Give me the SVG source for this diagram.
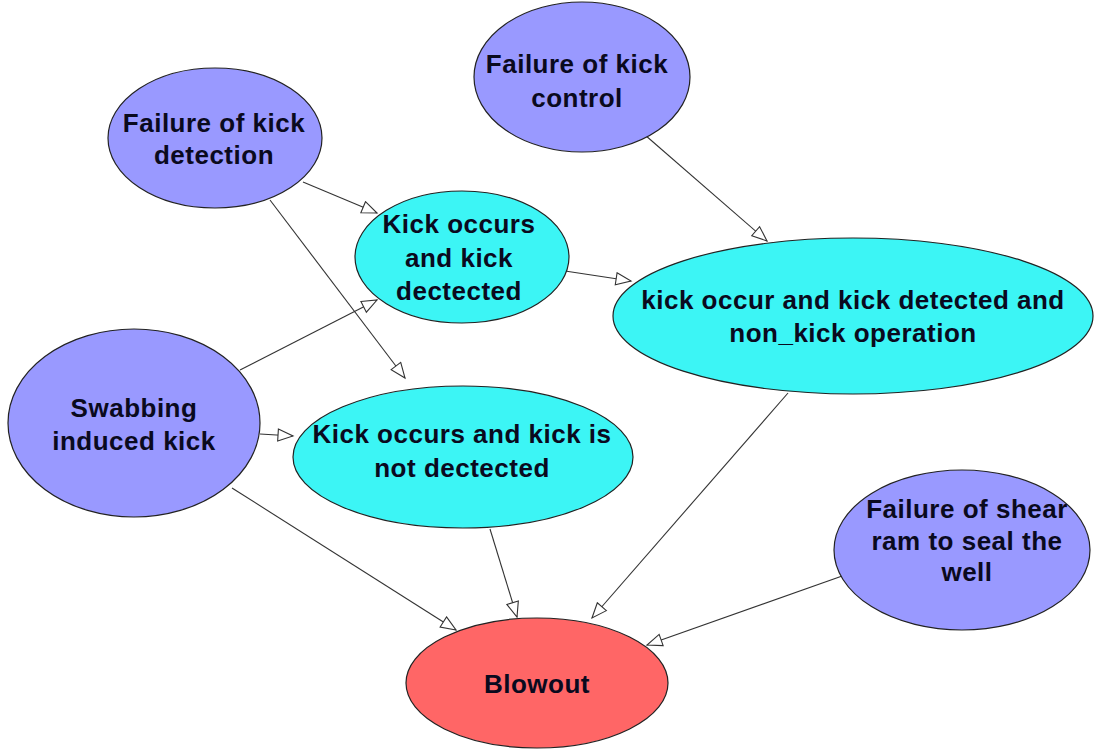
<svg xmlns="http://www.w3.org/2000/svg" width="1094" height="749" viewBox="0 0 1094 749">
  <style>
    .cause { fill: #9999FF; stroke: #222; stroke-width: 1.2; }
    .state { fill: #3CF5F5; stroke: #222; stroke-width: 1.2; }
    .top { fill: #FF6666; stroke: #222; stroke-width: 1.2; }
    .lbl { font-family: "Liberation Sans", Arial, sans-serif; font-weight: bold; font-size: 26px; letter-spacing: 0.5px; fill: #0a0a1e; text-anchor: middle; }
    .edge { stroke: #333; stroke-width: 1.1; fill: none; marker-end: url(#head); }
  </style>
  <defs>
    <marker id="head" markerUnits="userSpaceOnUse" markerWidth="20" markerHeight="16" refX="16" refY="7" orient="auto">
      <path d="M1,1 L16,7 L1,13 Z" fill="#fff" stroke="#333" stroke-width="1.1"/>
    </marker>
  </defs>
  <rect width="1094" height="749" fill="#fff"/>

  <g id="connectors">
    <line class="edge" x1="303" y1="182" x2="377" y2="213"/>
    <line class="edge" x1="270" y1="200" x2="405" y2="378"/>
    <line class="edge" x1="645" y1="135" x2="767" y2="241"/>
    <line class="edge" x1="565" y1="271" x2="631" y2="281"/>
    <line class="edge" x1="240" y1="370" x2="377" y2="300"/>
    <line class="edge" x1="260" y1="434" x2="293" y2="436"/>
    <line class="edge" x1="232" y1="488" x2="456" y2="630"/>
    <line class="edge" x1="490" y1="529" x2="517" y2="617"/>
    <line class="edge" x1="788" y1="393" x2="592" y2="618"/>
    <line class="edge" x1="845" y1="575" x2="647" y2="645"/>
  </g>

  <g id="failure-kick-detection">
    <ellipse class="cause" cx="215" cy="138" rx="107" ry="70"/>
    <text class="lbl" x="214" y="132">Failure of kick</text>
    <text class="lbl" x="214" y="164">detection</text>
  </g>

  <g id="failure-kick-control">
    <ellipse class="cause" cx="582" cy="77" rx="108" ry="75"/>
    <text class="lbl" x="577" y="73">Failure of kick</text>
    <text class="lbl" x="577" y="107">control</text>
  </g>

  <g id="kick-detected">
    <ellipse class="state" cx="462" cy="257" rx="107" ry="66"/>
    <text class="lbl" x="459" y="233">Kick occurs</text>
    <text class="lbl" x="459" y="267">and kick</text>
    <text class="lbl" x="459" y="300">dectected</text>
  </g>

  <g id="kick-detected-non-kick">
    <ellipse class="state" cx="853" cy="316" rx="240" ry="78"/>
    <text class="lbl" x="853" y="309">kick occur and kick detected and</text>
    <text class="lbl" x="853" y="342">non_kick operation</text>
  </g>

  <g id="swabbing-kick">
    <ellipse class="cause" cx="134" cy="423" rx="126" ry="94"/>
    <text class="lbl" x="134" y="417">Swabbing</text>
    <text class="lbl" x="134" y="450">induced kick</text>
  </g>

  <g id="kick-not-detected">
    <ellipse class="state" cx="463" cy="457" rx="170" ry="71"/>
    <text class="lbl" x="462" y="443">Kick occurs and kick is</text>
    <text class="lbl" x="462" y="477">not dectected</text>
  </g>

  <g id="shear-ram-failure">
    <ellipse class="cause" cx="962" cy="550" rx="128" ry="80"/>
    <text class="lbl" x="967" y="518">Failure of shear</text>
    <text class="lbl" x="967" y="550">ram to seal the</text>
    <text class="lbl" x="967" y="581">well</text>
  </g>

  <g id="blowout">
    <ellipse class="top" cx="537" cy="683" rx="131" ry="65"/>
    <text class="lbl" x="537" y="693">Blowout</text>
  </g>
</svg>
